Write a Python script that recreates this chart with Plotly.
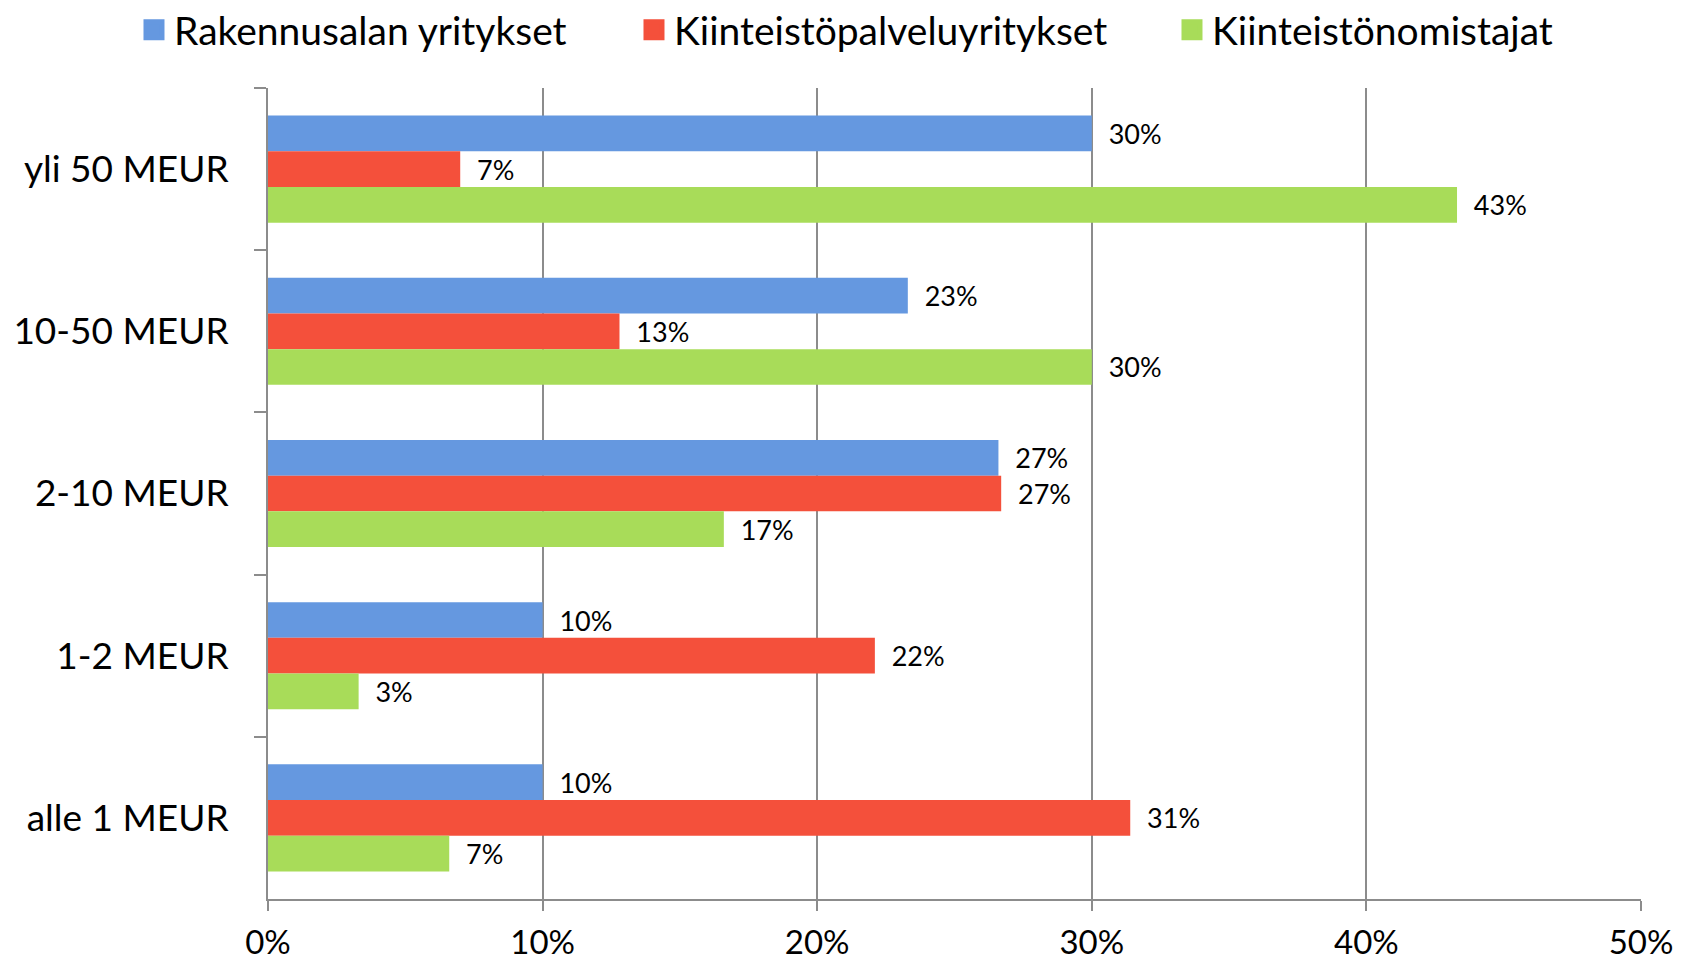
import plotly.graph_objects as go

categories = ["yli 50 MEUR", "10-50 MEUR", "2-10 MEUR", "1-2 MEUR", "alle 1 MEUR"]
series_names = ["Rakennusalan yritykset", "Kiinteistöpalveluyritykset", "Kiinteistönomistajat"]
rakennus = [0.300, 0.233, 0.266, 0.100, 0.100]
kiinteistopalvelu = [0.070, 0.128, 0.267, 0.221, 0.314]
omistajat = [0.433, 0.300, 0.166, 0.033, 0.066]
x_ticks = [0, 0.1, 0.2, 0.3, 0.4, 0.5]
x_tick_labels = ["0%", "10%", "20%", "30%", "40%", "50%"]

colors = ["#6598E0", "#F4503B", "#A8DC59"]
legend_widths = [455, 493, 403]
FONT = "Lato"

fig = go.Figure()
for name, vals, col, lw in zip(series_names, [rakennus, kiinteistopalvelu, omistajat], colors, legend_widths):
    fig.add_trace(go.Bar(
        y=categories, x=vals, name=name, orientation="h",
        marker=dict(color=col, line=dict(width=0)),
        texttemplate="\u00a0\u00a0%{x:.0%}", textposition="outside",
        textfont=dict(family=FONT, size=27, color="#000000"),
        cliponaxis=False, showlegend=False,
    ))
    fig.add_trace(go.Scatter(
        x=[None], y=[None], mode="markers", name=name,
        marker=dict(symbol="square", size=16, color=col, line=dict(color=col, width=5)),
        showlegend=True, legendwidth=lw,
    ))

# page body has an 8px margin: figure is sized/positioned to compensate
fig.update_layout(
    width=1680, height=954,
    margin=dict(l=260, r=47, t=80, b=63, autoexpand=False),
    paper_bgcolor="white", plot_bgcolor="white",
    barmode="group", bargap=0.34, bargroupgap=0,
    font=dict(family=FONT, color="#000000"),
    legend=dict(orientation="h", x=-0.0976, xanchor="left", y=1.0715, yanchor="middle",
                font=dict(family=FONT, size=39, color="#000000"),
                itemsizing="trace", traceorder="normal"),
)
fig.update_xaxes(
    range=[0, 0.5], tickvals=x_ticks, ticktext=x_tick_labels,
    showgrid=True, gridcolor="#8C8C8C", gridwidth=1.5,
    showline=True, linecolor="#8C8C8C", linewidth=2,
    ticks="outside", ticklen=10, tickcolor="#8C8C8C", tickwidth=1.5,
    tickfont=dict(family=FONT, size=33, color="#000000"),
    ticklabelstandoff=3, zeroline=False, automargin=False,
)
fig.update_yaxes(
    categoryorder="array", categoryarray=categories, autorange="reversed",
    showline=True, linecolor="#8C8C8C", linewidth=2,
    ticks="outside", ticklen=12, tickcolor="#8C8C8C", tickwidth=1.5,
    tickson="boundaries", showgrid=False,
    tickfont=dict(family=FONT, size=37, color="#000000"),
    ticklabelstandoff=30, automargin=False,
)

fig.write_html("out.html")
